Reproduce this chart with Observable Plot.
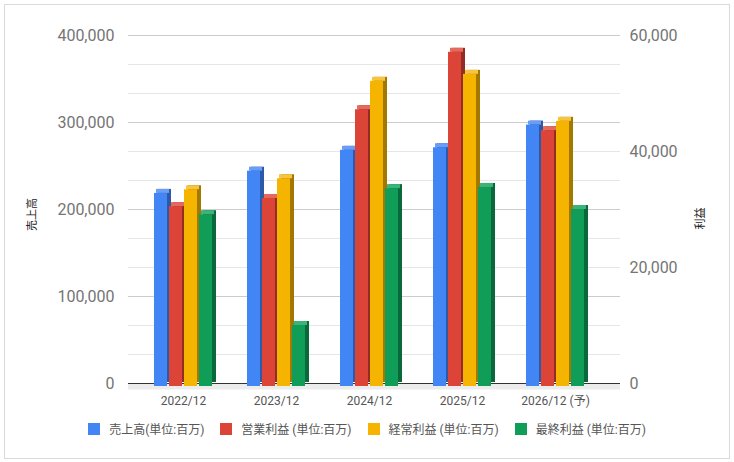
<!DOCTYPE html>
<html>
<head>
<meta charset="utf-8">
<script src="https://cdn.jsdelivr.net/npm/d3@7"></script>
<script src="https://cdn.jsdelivr.net/npm/@observablehq/plot@0.6"></script>
<style>
  html, body { margin: 0; padding: 0; background: #fff; }
  #wrap { position: relative; width: 734px; height: 462px; font-family: Roboto, "Noto Sans CJK JP", sans-serif; }
  #border { position: absolute; left: 4px; top: 4px; width: 726px; height: 455px; box-sizing: border-box; border: 1px solid #d9d9d9; }
  .layer { position: absolute; left: 0; top: 0; }
  #legend { position: absolute; left: 0; top: 420px; width: 734px; display: flex; justify-content: center; font-size: 12px; color: #555; }
  .item { display: flex; align-items: center; margin: 0 8px; }
  .sw { width: 12px; height: 12px; margin-right: 9px; }
</style>
</head>
<body>
<div id="wrap">
  <div id="border"></div>
  <div id="bg" class="layer"></div>
  <div id="fg" class="layer"></div>
  <div id="legend"></div>
</div>
<script>
// ---- data ----
const years = ["2022/12", "2023/12", "2024/12", "2025/12", "2026/12 (予)"];
const seriesNames = ["売上高(単位:百万)", "営業利益 (単位:百万)", "経常利益 (単位:百万)", "最終利益 (単位:百万)"];
const sales = [218500, 244000, 268000, 271000, 297000];          // left axis
const operatingProfit = [30500, 31900, 47200, 57100, 43600];     // right axis
const ordinaryProfit = [33400, 35300, 52100, 53300, 45200];      // right axis
const netProfit = [29100, 10000, 33600, 33800, 30000];           // right axis
const leftTicks = [0, 100000, 200000, 300000, 400000];
const rightTicks = [0, 20000, 40000, 60000];
const leftTitle = "売上高";
const rightTitle = "利益";

// ---- styles ----
const frontColor = ["#4285F4", "#DB4437", "#F4B400", "#0F9D58"];
const sideColor  = ["#2c5aa8", "#922d25", "#a37800", "#0a693b"];
const topColor   = ["#6a9ef6", "#e46a5e", "#f6c440", "#3db37a"];

const leftMax = 400000, rightMax = 60000, k = leftMax / rightMax;
const seriesValues = [sales, operatingProfit, ordinaryProfit, netProfit];
const rows = [];
years.forEach((year, i) => {
  seriesNames.forEach((s, j) => {
    const v = seriesValues[j][i];
    rows.push({year, series: s, idx: j, value: v, yv: j === 0 ? v : v * k});
  });
});

const W = 734, H = 410;
const common = {
  width: W, height: H, marginTop: 35, marginBottom: 27, marginLeft: 128, marginRight: 114,
  style: {background: "transparent", fontFamily: 'Roboto, "Noto Sans CJK JP", sans-serif', fontSize: "12px", color: "#555"}
};
const grid = d3.range(13).map(i => i * leftMax / 12);
const fmt = d3.format(",");

const bg = Plot.plot({
  ...common,
  y: {domain: [0, leftMax]},
  marks: [
    Plot.ruleY(grid.filter(v => !leftTicks.includes(v)), {stroke: "#e6e6e6"}),
    Plot.ruleY(leftTicks.filter(v => v > 0), {stroke: "#cccccc"}),
    Plot.ruleY([0], {stroke: "#ececec", strokeWidth: 6, dy: 3}),
    Plot.ruleY([0], {stroke: "#333"}),
    Plot.axisY(leftTicks, {anchor: "left", tickSize: 0, tickPadding: 14, fontSize: 16, fill: "#757575", tickFormat: fmt, label: null}),
    Plot.axisY(rightTicks.map(v => v * k), {anchor: "right", tickSize: 0, tickPadding: 9, fontSize: 16, fill: "#757575", tickFormat: d => fmt(Math.round(d / k)), label: null}),
    Plot.text([leftTitle], {frameAnchor: "left", textAnchor: "middle", dx: -96, dy: 5, rotate: -90, fontSize: 11, fill: "#222"}),
    Plot.text([rightTitle], {frameAnchor: "right", textAnchor: "middle", dx: 80, dy: 9, rotate: -90, fontSize: 11, fill: "#222"})
  ]
});
document.getElementById("bg").appendChild(bg);

const fg = Plot.plot({
  ...common,
  fx: {domain: years, paddingInner: 0.355, paddingOuter: 0.3226, align: 0.4167, label: null, axis: "bottom", tickSize: 0, tickPadding: 13},
  x: {domain: seriesNames, padding: 0, axis: null},
  y: {domain: [0, leftMax], axis: null},
  marks: [
    // side face (back copy)
    Plot.barY(rows, {fx: "year", x: "series", y: "yv", fill: d => sideColor[d.idx], insetLeft: 1, insetRight: 1, insetBottom: -3, dx: 4, dy: -4}),
    // top face
    Plot.barY(rows, {fx: "year", x: "series", y1: "yv", y2: "yv", fill: d => topColor[d.idx], insetLeft: 1, insetRight: 1, insetTop: -4, dx: 2}),
    // front face
    Plot.barY(rows, {fx: "year", x: "series", y: "yv", fill: d => frontColor[d.idx], insetLeft: 1, insetRight: 1, insetBottom: -3})
  ]
});
document.getElementById("fg").appendChild(fg);

const legend = document.getElementById("legend");
seriesNames.forEach((s, j) => {
  const it = document.createElement("div");
  it.className = "item";
  const sw = document.createElement("div");
  sw.className = "sw";
  sw.style.background = frontColor[j];
  const t = document.createElement("span");
  t.textContent = s;
  it.appendChild(sw); it.appendChild(t);
  legend.appendChild(it);
});
</script>
</body>
</html>
